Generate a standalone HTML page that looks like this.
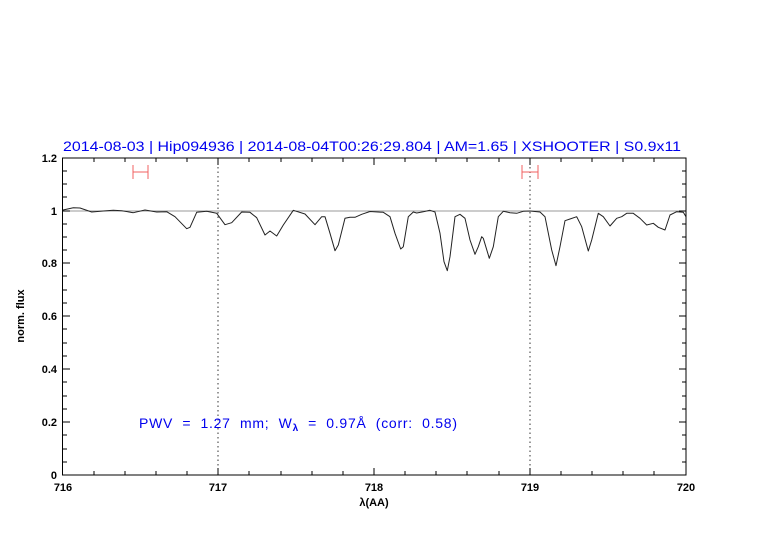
<!DOCTYPE html>
<html><head><style>body{margin:0;background:#fff}svg{display:block}</style></head><body>
<svg width="782" height="542" xmlns="http://www.w3.org/2000/svg" font-family="Liberation Sans, sans-serif">
<rect width="782" height="542" fill="#fff"/>
<text x="63" y="151" font-size="14" fill="#0000ee" textLength="618" lengthAdjust="spacingAndGlyphs">2014-08-03 | Hip094936 | 2014-08-04T00:26:29.804 | AM=1.65 | XSHOOTER | S0.9x11</text>
<line x1="63" y1="211" x2="686" y2="211" stroke="#999" stroke-width="1"/>
<line x1="218" y1="158" x2="218" y2="475" stroke="#333" stroke-dasharray="1.5,3"/>
<line x1="530" y1="158" x2="530" y2="475" stroke="#333" stroke-dasharray="1.5,3"/>
<g stroke="#f06060" stroke-width="1">
<line x1="133" y1="172" x2="148" y2="172"/><line x1="133" y1="165" x2="133" y2="179"/><line x1="148" y1="165" x2="148" y2="179"/>
<line x1="522" y1="172" x2="538" y2="172"/><line x1="522" y1="165" x2="522" y2="179"/><line x1="538" y1="165" x2="538" y2="179"/>
</g>
<polyline fill="none" stroke="#222" stroke-width="1" stroke-linejoin="round" points="63,210 73.3,207.7 80,208 91.7,212 103.3,211 113.3,210.3 121.7,210.7 133.3,212.7 145,210 156.7,212 166.7,211.7 175,216.7 186.7,228.7 190,227.3 196.7,212.3 206.7,211.3 216.7,213.3 225,224.7 231.7,222.7 241.7,212 250,212.3 256.7,217.7 265,235 270,231 276.7,236 283.3,225 293.3,210.3 305,214 315,224.7 321.7,216.7 325,216.7 330,233.3 335,250.7 338.3,245 345,218.3 350,217.3 355,217.3 361.7,214.3 370,211.5 383.3,212.3 390,216.7 395,233.3 400.7,249 403.3,246.7 408.3,216.7 413.3,212 416.7,213 423.3,211.7 430,210.3 435,212 440,233.3 444,261.7 447.3,270.7 450,256.7 455,216.7 460,214.3 465,218.3 470,240 475,254.3 478.3,246.7 481.7,236.7 483.3,238.3 489.3,258.3 493.3,246.7 498.3,216.7 503.3,211.3 510,212.7 516.7,213.3 523.3,211.3 530,211 540,212 545,216.7 551.7,250 556,265.7 560,246.7 565,220.7 570,219 576.7,216.7 581.7,226.7 588.3,251 591.7,240 598.3,213.3 603.3,216.7 610,226 616.7,218.3 621.7,216.7 626.7,213.3 633.3,213.3 640,218.3 646.7,225 653.3,223.3 658.3,227.3 665,230 670,215 676.7,211.7 683.3,212.3 686,216.7"/>
<rect x="62.5" y="158" width="623.5" height="317" fill="none" stroke="#000" stroke-width="1"/>
<g stroke="#000" stroke-width="1">
<path d="M94,475v-4M125,475v-4M156,475v-4M187,475v-4M218,475v-7M249,475v-4M281,475v-4M312,475v-4M343,475v-4M374,475v-7M405,475v-4M436,475v-4M467,475v-4M499,475v-4M530,475v-7M561,475v-4M592,475v-4M623,475v-4M654,475v-4"/>
<path d="M94,158v4M125,158v4M156,158v4M187,158v4M218,158v7M249,158v4M281,158v4M312,158v4M343,158v4M374,158v7M405,158v4M436,158v4M467,158v4M499,158v4M530,158v7M561,158v4M592,158v4M623,158v4M654,158v4"/>
<path d="M63,462h4M63,449h4M63,435h4M63,422h7M63,409h4M63,396h4M63,382h4M63,369h7M63,356h4M63,343h4M63,329h4M63,316h7M63,303h4M63,290h4M63,276h4M63,263h7M63,250h4M63,237h4M63,224h4M63,211h7M63,197h4M63,184h4M63,171h4"/>
<path d="M686,462h-4M686,449h-4M686,435h-4M686,422h-7M686,409h-4M686,396h-4M686,382h-4M686,369h-7M686,356h-4M686,343h-4M686,329h-4M686,316h-7M686,303h-4M686,290h-4M686,276h-4M686,263h-7M686,250h-4M686,237h-4M686,224h-4M686,211h-7M686,197h-4M686,184h-4M686,171h-4"/>
</g>
<g font-size="11" fill="#000" text-anchor="end" font-weight="bold">
<text x="57" y="479">0</text><text x="57" y="426">0.2</text><text x="57" y="373">0.4</text><text x="57" y="320">0.6</text><text x="57" y="267">0.8</text><text x="57" y="215">1</text><text x="57" y="162">1.2</text>
</g>
<g font-size="11" fill="#000" text-anchor="middle" font-weight="bold">
<text x="63" y="491">716</text><text x="218" y="491">717</text><text x="374" y="491">718</text><text x="530" y="491">719</text><text x="686" y="491">720</text>
<text x="374" y="506">λ(AA)</text>
<text transform="translate(24,316) rotate(-90)">norm. flux</text>
</g>
<text x="139" y="428" font-size="14" fill="#0000ee" textLength="318" lengthAdjust="spacing" xml:space="preserve">PWV  =  1.27  mm;  W<tspan font-size="10" dy="3" font-weight="bold">λ</tspan><tspan dy="-3">  =  0.97Å  (corr:  0.58)</tspan></text>
</svg>
</body></html>
